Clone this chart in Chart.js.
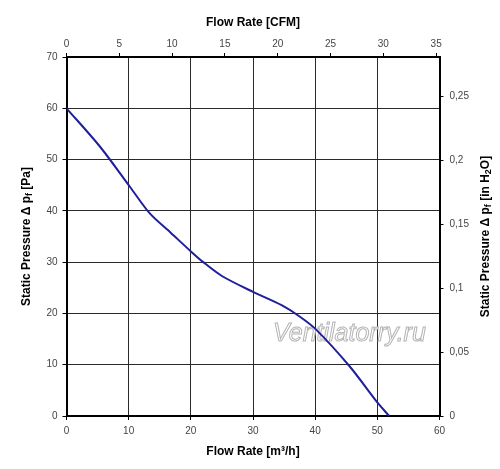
<!DOCTYPE html>
<html>
<head>
<meta charset="utf-8">
<script src="https://cdn.jsdelivr.net/npm/chart.js@4"></script>
<style>
  body { margin: 0; background: #fff; }
  #wrap { width: 500px; height: 469px; }
</style>
</head>
<body>
<div id="wrap"><canvas id="fanChart"></canvas></div>
<script>
    // fan curve
    const flowM3h = [0, 5.4, 10.2, 13.4, 16.8, 20.1, 22, 25, 30, 34.6, 37.5, 40.2, 45.6, 49.9, 51.9];
    const pressurePa = [60, 52.5, 44.7, 39.5, 35.7, 32, 30, 27.3, 24.2, 21.6, 19.4, 16.8, 9.6, 2.8, 0];

    const M3H_PER_CFM = 1.699;
    const PA_PER_INH2O = 249.09;

    const tickFont = { family: '"Liberation Sans", Arial, sans-serif', size: 10 };
    const titleFont = { family: '"Liberation Sans", Arial, sans-serif', size: 12, weight: 'bold' };

    const points = flowM3h.map((q, i) => ({ x: q, y: pressurePa[i] }));

    // side titles need subscripts, so they are drawn here
    const sideTitles = {
    id: 'sideTitles',
    afterDraw(chart) {
    const ctx = chart.ctx;
    const area = chart.chartArea;
    const cy = (area.top + area.bottom) / 2;
    const drawParts = (x, parts) => {
    ctx.save();
    ctx.translate(x, cy);
    ctx.rotate(-Math.PI / 2);
    ctx.fillStyle = '#000';
    ctx.textBaseline = 'middle';
    let total = 0;
    parts.forEach(p => {
    ctx.font = 'bold ' + (p.sub ? 9 : 12) + 'px "Liberation Sans", Arial, sans-serif';
    total += ctx.measureText(p.t).width;
});
    let px = -total / 2;
    parts.forEach(p => {
    ctx.font = 'bold ' + (p.sub ? 9 : 12) + 'px "Liberation Sans", Arial, sans-serif';
    ctx.textAlign = 'left';
    ctx.fillText(p.t, px, p.sub ? 3 : 0);
    px += ctx.measureText(p.t).width;
});
    ctx.restore();
};
    drawParts(27, [{t: 'Static Pressure \u0394 p'}, {t: 'f', sub: true}, {t: ' [Pa]'}]);
    drawParts(486, [{t: 'Static Pressure \u0394 p'}, {t: 'f', sub: true}, {t: ' [in H'}, {t: '2', sub: true}, {t: 'O]'}]);
}
};

    const watermark = {
    id: 'watermark',
    beforeDatasetsDraw(chart) {
    const ctx = chart.ctx;
    ctx.save();
    ctx.font = 'italic 25px "Liberation Sans", Arial, sans-serif';
    ctx.textAlign = 'left';
    ctx.textBaseline = 'alphabetic';
    ctx.fillStyle = '#ffffff';
    ctx.strokeStyle = '#b4b4b4';
    ctx.lineWidth = 1;
    ctx.fillText('Ventilatorry.ru', 273, 341);
    ctx.strokeText('Ventilatorry.ru', 273, 341);
    ctx.restore();
}
};

    const ctx = document.getElementById('fanChart');
    new Chart(ctx, {
    type: 'scatter',
    data: {
    datasets: [{
    label: 'Static pressure',
    data: points,
    showLine: true,
    borderColor: '#1f1f9c',
    borderWidth: 2,
    pointRadius: 0,
    tension: 0.3,
    xAxisID: 'x',
    yAxisID: 'y'
}]
},
    plugins: [watermark, sideTitles],
    options: {
    responsive: true,
    maintainAspectRatio: false,
    animation: false,
    layout: { padding: 0 },
    plugins: {
    legend: { display: false },
    tooltip: { enabled: false }
},
    scales: {
    x: {
    type: 'linear',
    position: 'bottom',
    min: 0,
    max: 60,
    ticks: { stepSize: 10, color: '#444', font: tickFont, padding: 5, maxRotation: 0 },
    grid: { color: '#2a2a2a', lineWidth: 1, tickLength: 4, tickColor: '#000' },
    border: { color: '#000', width: 2 },
    title: { display: true, text: 'Flow Rate [m\u00b3/h]', color: '#000', font: titleFont, padding: { top: 0, bottom: 10 } },
    afterFit: (scale) => { scale.height = 53; }
},
    x2: {
    type: 'linear',
    position: 'top',
    min: 0,
    max: 60 / M3H_PER_CFM,
    ticks: { stepSize: 5, includeBounds: false, color: '#444', font: tickFont, padding: 3, maxRotation: 0 },
    grid: { drawOnChartArea: false, tickLength: 4, tickColor: '#000' },
    border: { color: '#000', width: 2 },
    title: { display: true, text: 'Flow Rate [CFM]', color: '#000', font: titleFont, padding: { top: 15, bottom: 0 } },
    afterFit: (scale) => { scale.height = 57; }
},
    y: {
    type: 'linear',
    position: 'left',
    min: 0,
    max: 70,
    ticks: { stepSize: 10, color: '#444', font: tickFont, padding: 5 },
    grid: { color: '#2a2a2a', lineWidth: 1, tickLength: 4, tickColor: '#000' },
    border: { color: '#000', width: 2 },
    afterFit: (scale) => { scale.width = 66.5; }
},
    y2: {
    type: 'linear',
    position: 'right',
    min: 0,
    max: 70 / PA_PER_INH2O,
    ticks: {
    stepSize: 0.05,
    includeBounds: false,
    color: '#444',
    font: tickFont,
    padding: 6,
    callback: (v) => String(+v.toFixed(2)).replace('.', ',')
},
    grid: { drawOnChartArea: false, tickLength: 4, tickColor: '#000' },
    border: { color: '#000', width: 2 },
    afterFit: (scale) => { scale.width = 60.5; }
}
}
}
});
</script>
</body>
</html>
